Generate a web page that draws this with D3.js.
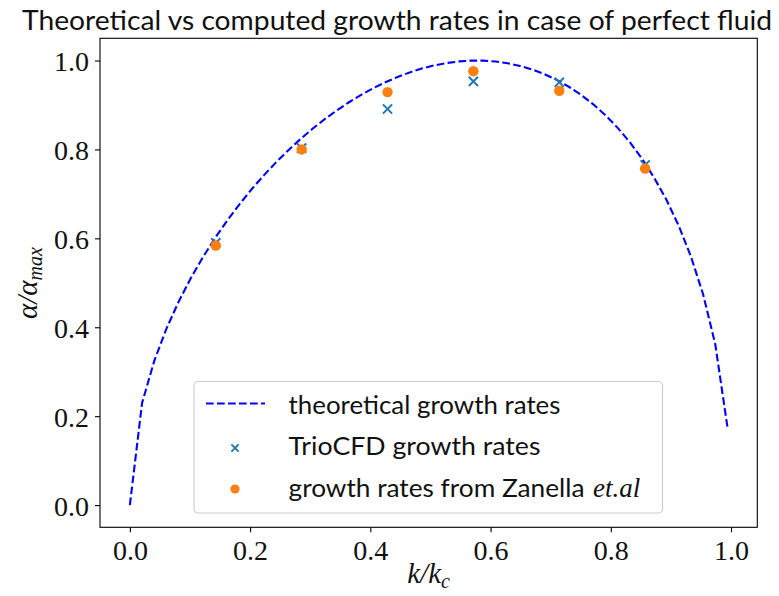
<!DOCTYPE html>
<html>
<head>
<meta charset="utf-8">
<script src="https://cdn.jsdelivr.net/npm/d3@7"></script>
<style>
  html, body { margin: 0; padding: 0; background: #fff; }
  svg { display: block; }
</style>
</head>
<body>
<svg id="chart" width="779" height="596"></svg>
<script>
// ---- data ----
const theoryK = [0, 0.02029, 0.04057, 0.06086, 0.08114, 0.10143, 0.12171, 0.142, 0.16229, 0.18257,
  0.20286, 0.22314, 0.24343, 0.26371, 0.284, 0.30429, 0.32457, 0.34486, 0.36514, 0.38543,
  0.40571, 0.426, 0.44629, 0.46657, 0.48686, 0.50714, 0.52743, 0.54771, 0.568, 0.58829,
  0.60857, 0.62886, 0.64914, 0.66943, 0.68971, 0.71, 0.73029, 0.75057, 0.77086, 0.79114,
  0.81143, 0.83171, 0.852, 0.87229, 0.89257, 0.91286, 0.93314, 0.95343, 0.97371, 0.994];
const theoryAlpha = [0, 0.2296, 0.3244, 0.3969, 0.4576, 0.5107, 0.5581, 0.6012, 0.6407, 0.6771,
  0.7109, 0.7422, 0.7714, 0.7984, 0.8236, 0.8470, 0.8686, 0.8885, 0.9067, 0.9234,
  0.9384, 0.9518, 0.9636, 0.9738, 0.9824, 0.9893, 0.9945, 0.9980, 0.9998, 0.9997,
  0.9978, 0.9938, 0.9878, 0.9797, 0.9693, 0.9564, 0.9410, 0.9228, 0.9015, 0.8769,
  0.8486, 0.8162, 0.7789, 0.7361, 0.6867, 0.6287, 0.5598, 0.4747, 0.3623, 0.1758];
const simK = [0.1429, 0.2857, 0.4286, 0.5714, 0.7143, 0.8571];
const trioAlpha = [0.590, 0.803, 0.891, 0.953, 0.951, 0.765];
const zanellaAlpha = [0.584, 0.800, 0.929, 0.976, 0.932, 0.757];
const xTicks = [0.0, 0.2, 0.4, 0.6, 0.8, 1.0];
const yTicks = [0.0, 0.2, 0.4, 0.6, 0.8, 1.0];
const legendLabels = ["theoretical growth rates", "TrioCFD growth rates", "growth rates from Zanella"];
const titleText = "Theoretical vs computed growth rates in case of perfect fluid";

// ---- layout ----
const svg = d3.select("#chart");
const L = 100, R = 757.3, T = 38.3, B = 527.3;
const x = d3.scaleLinear().domain([-0.0497, 1.0437]).range([L, R]);
const y = d3.scaleLinear().domain([-0.05, 1.05]).range([B, T]);
const serif = "'Liberation Serif', 'DejaVu Serif', serif";
const sans = "Lato, 'Open Sans', sans-serif";

// title
svg.append("text")
  .attr("x", 22).attr("y", 30)
  .attr("font-family", sans).attr("font-size", 27).attr("font-weight", 400)
  .attr("textLength", 750).attr("lengthAdjust", "spacingAndGlyphs")
  .attr("fill", "#111")
  .text(titleText);

// theory line
const line = d3.line().x(d => x(d[0])).y(d => y(d[1]));
svg.append("path")
  .datum(theoryK.map((k, i) => [k, theoryAlpha[i]]))
  .attr("d", line)
  .attr("fill", "none").attr("stroke", "#0000ff")
  .attr("stroke-width", 2.1).attr("stroke-dasharray", "7.7,3.3");

// cross markers
const cs = 4.6;
const crossPath = (cx, cy, s) => `M${cx - s},${cy - s}L${cx + s},${cy + s}M${cx - s},${cy + s}L${cx + s},${cy - s}`;
svg.append("g").selectAll("path").data(simK.map((k, i) => [k, trioAlpha[i]]))
  .join("path")
  .attr("d", d => crossPath(x(d[0]), y(d[1]), cs))
  .attr("stroke", "#1f77b4").attr("stroke-width", 2).attr("fill", "none");

// orange dots
svg.append("g").selectAll("circle").data(simK.map((k, i) => [k, zanellaAlpha[i]]))
  .join("circle")
  .attr("cx", d => x(d[0])).attr("cy", d => y(d[1])).attr("r", 5.2)
  .attr("fill", "#ff7f0e");

// spines
svg.append("rect").attr("x", L).attr("y", T).attr("width", R - L).attr("height", B - T)
  .attr("fill", "none").attr("stroke", "#000").attr("stroke-width", 1.1);

// axes
const xAxis = svg.append("g").attr("transform", `translate(0,${B})`)
  .call(d3.axisBottom(x).tickValues(xTicks).tickFormat(d3.format(".1f")).tickSize(5).tickPadding(8));
const yAxis = svg.append("g").attr("transform", `translate(${L},0)`)
  .call(d3.axisLeft(y).tickValues(yTicks).tickFormat(d3.format(".1f")).tickSize(5).tickPadding(6));
[xAxis, yAxis].forEach(g => {
  g.select(".domain").remove();
  g.selectAll("line").attr("stroke", "#000").attr("stroke-width", 1.1);
  g.selectAll("text").attr("font-family", serif).attr("font-size", 28).attr("fill", "#111");
});
yAxis.selectAll("text").attr("dy", "0.36em");

// x label
const xl = svg.append("text").attr("x", 428.6).attr("y", 583)
  .attr("text-anchor", "middle").attr("font-family", serif).attr("font-size", 29)
  .attr("font-style", "italic").attr("fill", "#111");
xl.append("tspan").text("k/k");
xl.append("tspan").attr("font-size", 20).attr("dy", 5).text("c");

// y label
const yl = svg.append("text").attr("transform", `translate(37,283) rotate(-90)`)
  .attr("text-anchor", "middle").attr("font-family", serif).attr("font-size", 29)
  .attr("font-style", "italic").attr("fill", "#111");
yl.append("tspan").text("α/α");
yl.append("tspan").attr("font-size", 20).attr("dy", 5).text("max");

// legend
const lg = svg.append("g");
lg.append("rect").attr("x", 194).attr("y", 381.5).attr("width", 468.5).attr("height", 131.5)
  .attr("rx", 4).attr("fill", "#fff").attr("fill-opacity", 0.8)
  .attr("stroke", "#cccccc").attr("stroke-width", 1.1);
lg.append("line").attr("x1", 206).attr("x2", 265).attr("y1", 403.5).attr("y2", 403.5)
  .attr("stroke", "#0000ff").attr("stroke-width", 2.1).attr("stroke-dasharray", "7.7,3.3");
lg.append("path").attr("d", crossPath(235, 448, 3.6))
  .attr("stroke", "#1f77b4").attr("stroke-width", 2).attr("fill", "none");
lg.append("circle").attr("cx", 235).attr("cy", 489).attr("r", 4.6).attr("fill", "#ff7f0e");
const rows = [414, 455, 496.5];
const widths = [272, 252, 296];
legendLabels.forEach((t, i) => {
  lg.append("text").attr("x", 288.5).attr("y", rows[i])
    .attr("font-family", sans).attr("font-size", 25).attr("font-weight", 400).attr("fill", "#111")
    .attr("textLength", widths[i]).attr("lengthAdjust", "spacingAndGlyphs")
    .text(t);
});
lg.append("text").attr("x", 593).attr("y", rows[2])
  .attr("font-family", serif).attr("font-style", "italic").attr("font-size", 27).attr("fill", "#111")
  .text("et.al");
</script>
</body>
</html>
